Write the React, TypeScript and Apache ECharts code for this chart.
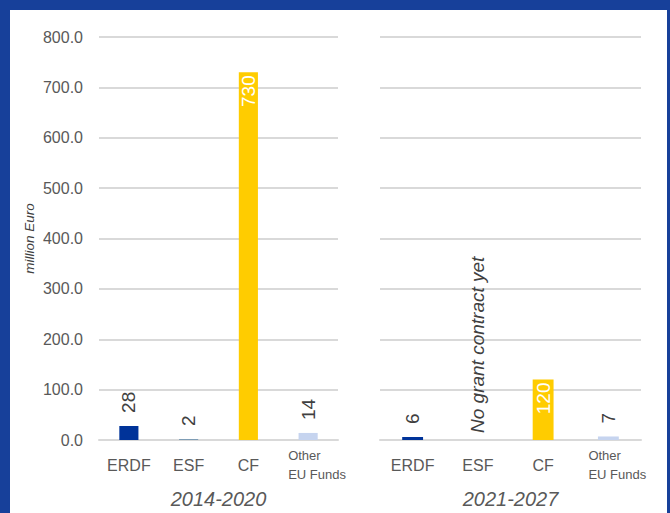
import React, { useEffect, useRef } from "react";
import * as echarts from "echarts";

const categories = ["ERDF", "ESF", "CF", "Other\nEU Funds"];
const values2014 = [28, 2, 730, 14];
const values2021 = [6, 0, 120, 7];
const barColors = ["#003399", "#7F9DB5", "#FFCC00", "#C6D4EF"];
const periodNames = ["2014-2020", "2021-2027"];
const yAxisName = "million Euro";
const noGrantText = "No grant contract yet";
const insideThreshold = 100;

const FONT = "Liberation Sans, Arial, sans-serif";

function buildSeries(values: number[], idx: number) {
  return {
    type: "bar",
    xAxisIndex: idx,
    yAxisIndex: idx,
    barWidth: "32%",
    data: values.map((v, i) => {
      const inside = v >= insideThreshold;
      const noGrant = idx === 1 && v === 0;
      return {
        value: v,
        itemStyle: { color: barColors[i] },
        label: {
          show: true,
          rotate: 90,
          position: inside ? "insideTop" : "top",
          align: inside ? "right" : "left",
          verticalAlign: "middle",
          distance: inside ? 3 : noGrant ? 7 : 13,
          color: inside ? "#ffffff" : "#404040",
          fontSize: 19,
          fontStyle: noGrant ? "italic" : "normal",
          fontFamily: FONT,
          formatter: noGrant ? noGrantText : String(v),
        },
      };
    }),
  };
}

function xAxisFor(idx: number) {
  return {
    type: "category",
    gridIndex: idx,
    data: categories,
    axisLine: { show: true, lineStyle: { color: "#d9d9d9", width: 2 } },
    axisTick: { show: false },
    axisLabel: {
      interval: 0,
      margin: 25,
      verticalAlign: "middle",
      fontFamily: FONT,
      formatter: (v: string) =>
        v.indexOf("\n") >= 0
          ? v
              .split("\n")
              .map((s) => "{o|" + s + "}")
              .join("\n")
          : "{c|" + v + "}",
      rich: {
        c: { fontSize: 16, color: "#595959", fontFamily: FONT },
        o: {
          fontSize: 13,
          lineHeight: 19,
          color: "#595959",
          fontFamily: FONT,
          width: 58,
          align: "left",
          padding: [0, 0, 0, 18],
        },
      },
    },
    name: periodNames[idx],
    nameLocation: "middle",
    nameGap: 49,
    nameTextStyle: {
      fontSize: 20,
      fontStyle: "italic",
      color: "#595959",
      fontFamily: FONT,
    },
  };
}

function yAxisFor(idx: number) {
  return {
    type: "value",
    gridIndex: idx,
    min: 0,
    max: 800,
    interval: 100,
    axisLine: { show: false },
    axisTick: { show: false },
    splitLine: { show: true, lineStyle: { color: "#d9d9d9", width: 2 } },
    axisLabel: {
      show: idx === 0,
      margin: 16,
      fontSize: 16,
      color: "#595959",
      fontFamily: FONT,
      formatter: (v: number) => v.toFixed(1),
    },
    name: idx === 0 ? yAxisName : "",
    nameLocation: "middle",
    nameGap: 63,
    nameTextStyle: {
      fontSize: 13.5,
      fontStyle: "italic",
      color: "#404040",
      fontFamily: FONT,
    },
  };
}

export default function App() {
  const ref = useRef<HTMLDivElement>(null);
  useEffect(() => {
    if (!ref.current) return;
    const chart = echarts.init(ref.current, undefined, { renderer: "svg" });
    chart.setOption({
      animation: false,
      backgroundColor: "#ffffff",
      grid: [
        { left: 89, width: 239, top: 27, height: 403, outerBoundsMode: "none", containLabel: false },
        { left: 370, width: 261, top: 27, height: 403, outerBoundsMode: "none", containLabel: false },
      ],
      xAxis: [xAxisFor(0), xAxisFor(1)],
      yAxis: [yAxisFor(0), yAxisFor(1)],
      series: [buildSeries(values2014, 0), buildSeries(values2021, 1)],
    });
    return () => chart.dispose();
  }, []);
  return (
    <div
      style={{
        position: "fixed",
        left: 0,
        top: 0,
        width: 670,
        height: 513,
        background: "#17409A",
      }}
    >
      <div
        ref={ref}
        style={{
          position: "absolute",
          left: 10,
          top: 10,
          width: 657,
          height: 503,
        }}
      />
    </div>
  );
}
